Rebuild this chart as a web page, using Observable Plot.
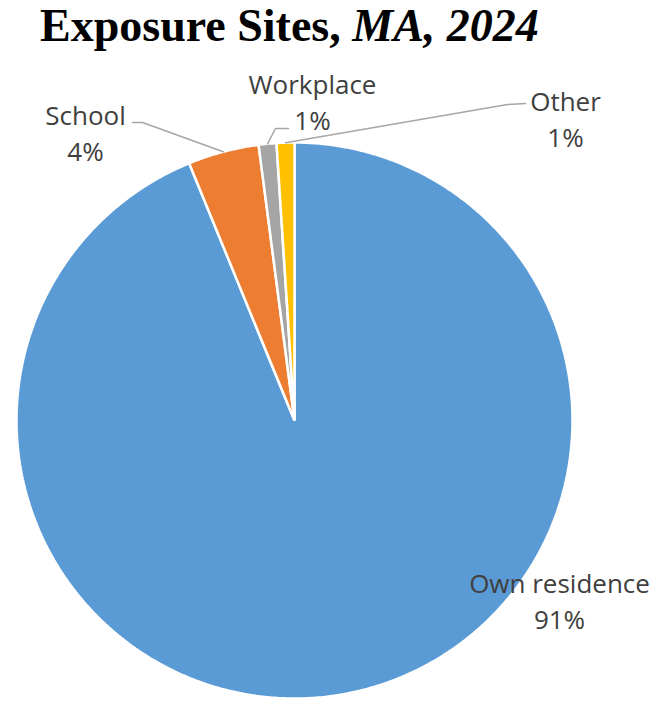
<!DOCTYPE html>
<html>
<head>
<meta charset="utf-8">
<script src="https://cdn.jsdelivr.net/npm/d3@7"></script>
<script src="https://cdn.jsdelivr.net/npm/@observablehq/plot@0.6"></script>
<style>
  html, body { margin: 0; padding: 0; background: #fff; }
  #title { height: 52px; box-sizing: border-box; padding: 0 0 0 40px; font-family: "Liberation Serif", "Times New Roman", serif; font-weight: bold; font-size: 46px; line-height: 52px; color: #000; white-space: nowrap; }
  #chart svg { display: block; }
</style>
</head>
<body>
<div id="title">Exposure Sites, <i>MA, 2024</i></div>
<div id="chart"></div>
<script>
// ---- data ----
const categories = ["Own residence", "School", "Workplace", "Other"];
const values = [91, 4, 1, 1];
const pctLabels = ["91%", "4%", "1%", "1%"];
const colors = ["#5B9BD5", "#ED7D31", "#A5A5A5", "#FFC000"];

// ---- layout (page pixels) ----
const W = 656, H = 649, svgTop = 52;
const cx = 294, cy = 420, R = 278;
const toUx = px => (px - cx) / R;
const toUy = py => (cy - py) / R;
const labelLayout = {
  "Own residence": {x: 559, y: 599},
  "School": {x: 85, y: 131, leader: [[132, 122], [142, 122]]},
  "Workplace": {x: 312, y: 100, leader: [[288, 128], [275, 128]]},
  "Other": {x: 565, y: 117, leader: [[525, 103], [507, 104]]}
};

const rows = categories.map((c, i) => ({category: c, value: values[i], pct: pctLabels[i], color: colors[i]}));
const arcs = d3.pie().sort(null).value(d => d.value)(rows);

// slice polygons
const slicePts = [];
arcs.forEach(a => {
  slicePts.push({category: a.data.category, x: 0, y: 0});
  const n = Math.max(4, Math.ceil((a.endAngle - a.startAngle) / (Math.PI / 360)));
  for (let k = 0; k <= n; k++) {
    const t = a.startAngle + (a.endAngle - a.startAngle) * k / n;
    slicePts.push({category: a.data.category, x: Math.sin(t), y: Math.cos(t)});
  }
});

// leader lines
const leaderPts = [];
arcs.forEach(a => {
  const L = labelLayout[a.data.category];
  if (!L.leader) return;
  const mid = (a.startAngle + a.endAngle) / 2;
  L.leader.forEach(p => leaderPts.push({category: a.data.category, x: toUx(p[0]), y: toUy(p[1])}));
  leaderPts.push({category: a.data.category, x: Math.sin(mid), y: Math.cos(mid)});
});

const labelRows = rows.map(r => ({
  text: r.category + "\n" + r.pct,
  x: toUx(labelLayout[r.category].x),
  y: toUy(labelLayout[r.category].y)
}));

const chart = Plot.plot({
  width: W,
  height: H,
  margin: 0,
  x: {domain: [-1, 1], range: [cx - R, cx + R], axis: null},
  y: {domain: [-1, 1], range: [cy - svgTop + R, cy - svgTop - R], axis: null},
  color: {domain: categories, range: colors},
  marks: [
    Plot.line(slicePts, {x: "x", y: "y", z: "category", fill: "category", stroke: "white", strokeWidth: 2.5, curve: "linear-closed", strokeLinejoin: "miter"}),
    Plot.line(leaderPts, {x: "x", y: "y", z: "category", stroke: "#A6A6A6", strokeWidth: 1.5}),
    Plot.text(labelRows, {x: "x", y: "y", text: "text", fill: "#404040", fontSize: 26, lineHeight: 1.38, fontFamily: "Open Sans", textAnchor: "middle"})
  ]
});
document.getElementById("chart").appendChild(chart);
</script>
</body>
</html>
